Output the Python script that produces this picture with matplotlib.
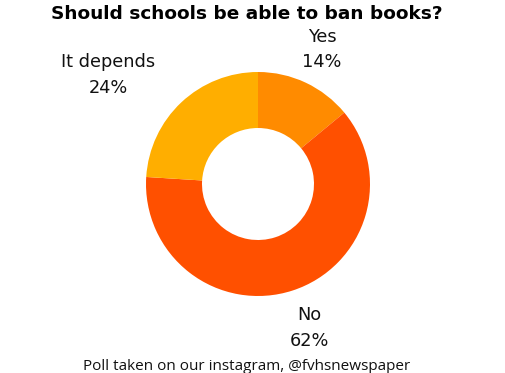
import matplotlib.pyplot as plt

labels = ["Yes", "No", "It depends"]
shares = [14, 62, 24]
colors = ["#ff8b00", "#ff5000", "#ffae00"]
title = "Should schools be able to ban books?"
note = "Poll taken on our instagram, @fvhsnewspaper"

W, H = 505, 373
fig = plt.figure(figsize=(W / 100, H / 100), dpi=100)
ax = fig.add_axes([0, 0, 1, 1])

cx, cy, r = 258, H - 184, 112
ax.pie(shares, colors=colors, startangle=90, counterclock=False,
       center=(cx, cy), radius=r,
       wedgeprops=dict(width=r * 0.5, edgecolor="none"))
ax.set_xlim(0, W)
ax.set_ylim(0, H)
ax.set_aspect("equal")
ax.axis("off")

# label anchor points (pixels, top-left origin) for name / percent lines
pos = {"Yes": (322, 37, 62), "No": (309, 315, 341), "It depends": (108, 62, 88)}
for lab, val in zip(labels, shares):
    x, y1, y2 = pos[lab]
    ax.text(x, H - y1, lab, ha="center", va="center", fontsize=12.8,
            family="DejaVu Sans", color="#111111")
    ax.text(x, H - y2, f"{val}%", ha="center", va="center", fontsize=12.8,
            family="DejaVu Sans", color="#111111")

ax.text(247, H - 14, title, ha="center", va="center", fontsize=13.3,
        fontweight="heavy", family="DejaVu Sans", color="black")
ax.text(247, H - 366, note, ha="center", va="center", fontsize=11,
        family="Open Sans", color="#111111")

fig.savefig("out.png", dpi=100)
